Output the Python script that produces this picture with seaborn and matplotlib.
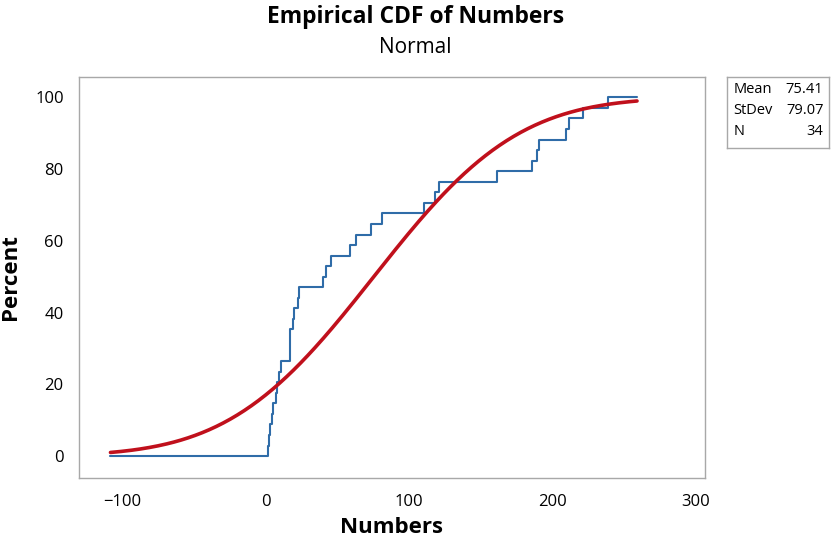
import math
import numpy as np
import pandas as pd
import matplotlib
matplotlib.use("Agg")
import matplotlib.pyplot as plt
import seaborn as sns

numbers = [1.8, 2.5, 3.4, 4.4, 5.5, 7.0, 8.3, 9.5, 10.7,
           16.8, 17.0, 17.2, 18.8, 19.9, 22.3, 23.4,
           40.1, 42.0, 45.3, 58.7, 62.9, 73.8, 81.5,
           110.5, 118.0, 121.0, 161.0,
           186.0, 189.3, 190.6, 209.3, 211.6, 220.9, 238.8]
mean_txt = 75.41
sd_txt = 79.07
stat_labels = ["Mean", "StDev", "N"]
stat_values = ["75.41", "79.07", "34"]
xticks = [-100, 0, 100, 200, 300]
yticks = [0, 20, 40, 60, 80, 100]

sns.set_style("white")
plt.rcParams['font.family'] = ['Open Sans', 'DejaVu Sans']
plt.rcParams['text.color'] = 'black'
plt.rcParams['axes.labelcolor'] = 'black'
plt.rcParams['xtick.color'] = 'black'
plt.rcParams['ytick.color'] = 'black'

n = len(numbers)
lo = mean_txt - 2.32 * sd_txt
hi = mean_txt + 2.32 * sd_txt

# empirical cdf as steps, padded out to the fitted range
xs = [lo] + sorted(numbers) + [hi]
ys = [0] + [100 * (i + 1) / n for i in range(n)] + [100]
steps = pd.DataFrame({'x': xs, 'y': ys})

grid = np.linspace(lo, hi, 300)
fit = pd.DataFrame({'x': grid,
                    'y': [50 * (1 + math.erf((g - mean_txt) / (sd_txt * math.sqrt(2)))) for g in grid]})

fig = plt.figure(figsize=(8.31, 5.44), dpi=100)
ax = fig.add_axes([0.095, 0.122, 0.753, 0.736])

ax.step(steps['x'], steps['y'], where='post', color='#2F6CA8', lw=1.5, zorder=2)
sns.lineplot(x='x', y='y', data=fit, color='#C0101C', lw=2.6, ax=ax, zorder=3)

ax.set_xlim(-130, 306)
ax.set_ylim(-6, 105.6)
ax.set_xticks(xticks)
ax.set_yticks(yticks)
ax.tick_params(axis='both', labelsize=12, length=3, color='#B0B0B0', labelcolor='black',
               direction='out', width=0.8)
ax.tick_params(axis='x', pad=9)
ax.tick_params(axis='y', pad=8)
for s in ax.spines.values():
    s.set_color('#A8A8A8')
    s.set_linewidth(1.0)

ax.set_xlabel('Numbers', fontsize=16, fontweight='bold', labelpad=5)
ax.set_ylabel('Percent', fontsize=16, fontweight='bold', labelpad=10)

fig.text(0.5, 0.968, 'Empirical CDF of Numbers', ha='center', va='center', fontsize=16.5, fontweight='bold')
fig.text(0.5, 0.913, 'Normal', ha='center', va='center', fontsize=15)

# stats box on the right
box = fig.add_axes([0.875, 0.728, 0.122, 0.130])
box.set_xticks([])
box.set_yticks([])
for s in box.spines.values():
    s.set_color('#A8A8A8')
    s.set_linewidth(1.0)
for i, (lab, val) in enumerate(zip(stat_labels, stat_values)):
    yy = 0.83 - i * 0.3
    box.text(0.06, yy, lab, ha='left', va='center', fontsize=10.5, transform=box.transAxes)
    box.text(0.95, yy, val, ha='right', va='center', fontsize=10.5, transform=box.transAxes)

fig.savefig('out.png', dpi=100)
